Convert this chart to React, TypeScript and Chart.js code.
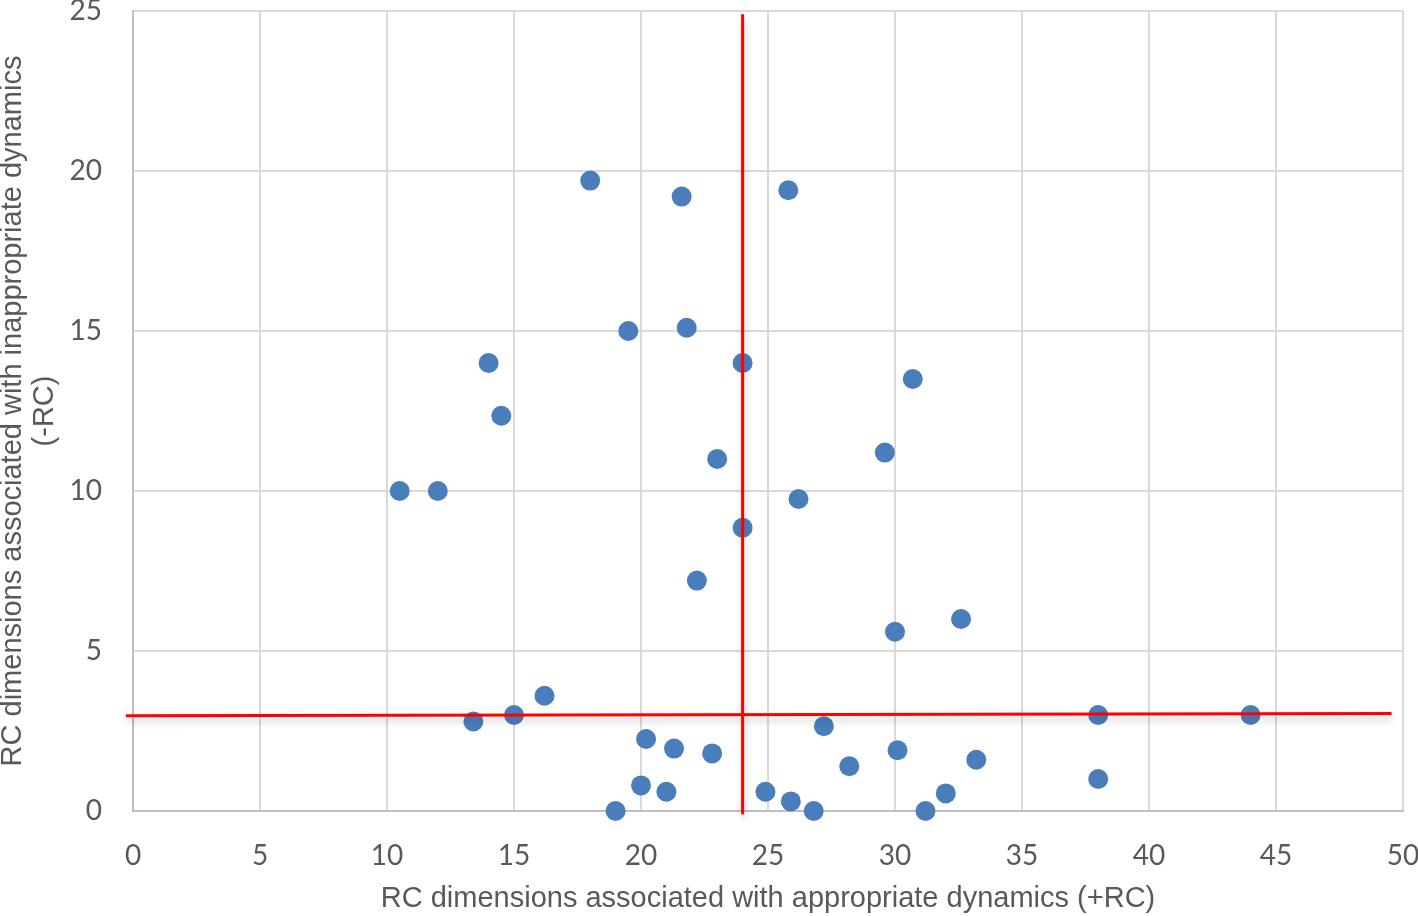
import React, { useEffect, useRef } from "react";
import { Chart, registerables } from "chart.js";

Chart.register(...registerables);

// Scatter data: +RC (x) and -RC (y)
const xValues = [18, 21.6, 25.8, 19.5, 21.8, 24, 14, 30.7, 14.5, 29.6, 23, 10.5, 12, 26.2, 24, 22.2, 30, 32.6, 16.2, 15, 13.4, 27.2, 38, 44, 20.2, 21.3, 22.8, 30.1, 33.2, 28.2, 38, 20, 21, 24.9, 25.9, 32, 19, 26.8, 31.2];
const yValues = [19.7, 19.2, 19.4, 15, 15.1, 14, 14, 13.5, 12.35, 11.2, 11, 10, 10, 9.75, 8.85, 7.2, 5.6, 6, 3.6, 3, 2.8, 2.65, 3, 3, 2.25, 1.95, 1.8, 1.9, 1.6, 1.4, 1, 0.8, 0.6, 0.6, 0.3, 0.55, 0, 0, 0];

// Red reference lines
const vLineX = [24, 24];
const vLineY = [-0.1, 24.9];
const hLineX = [-0.28, 49.55];
const hLineY = [2.98, 3.05];

const xTitle = "RC dimensions associated with appropriate dynamics (+RC)";
const yTitle = ["RC dimensions associated with inappropriate dynamics", "(-RC)"];

const xTicks = [0, 5, 10, 15, 20, 25, 30, 35, 40, 45, 50];
const yTicks = [0, 5, 10, 15, 20, 25];

const TEXT = "#595959";
const GRID = "#d9d9d9";

export default function App() {
  const ref = useRef<HTMLCanvasElement | null>(null);

  useEffect(() => {
    if (!ref.current) return;
    const shadowPlugin = {
      id: "lineShadow",
      beforeDatasetDraw(chart: any, args: any) {
        const ds = chart.data.datasets[args.index];
        if (ds.type === "line") {
          const ctx = chart.ctx;
          ctx.save();
          ctx.shadowColor = "rgba(0,0,0,0.22)";
          ctx.shadowBlur = 7;
          ctx.shadowOffsetX = 1;
          ctx.shadowOffsetY = 5;
        }
      },
      afterDatasetDraw(chart: any, args: any) {
        const ds = chart.data.datasets[args.index];
        if (ds.type === "line") {
          chart.ctx.restore();
        }
      },
    };

    const chart = new Chart(ref.current, {
      type: "scatter",
      data: {
        datasets: [
          {
            type: "line",
            data: vLineX.map((x, i) => ({ x, y: vLineY[i] })),
            borderColor: "#ff0000",
            borderWidth: 3,
            pointRadius: 0,
            clip: false,
            order: 0,
          } as any,
          {
            type: "line",
            data: hLineX.map((x, i) => ({ x, y: hLineY[i] })),
            borderColor: "#ff0000",
            borderWidth: 3,
            pointRadius: 0,
            clip: false,
            order: 0,
          } as any,
          {
            type: "scatter",
            data: xValues.map((x, i) => ({ x, y: yValues[i] })),
            backgroundColor: "#4a7ebb",
            borderColor: "#4a7ebb",
            borderWidth: 0,
            pointRadius: 10,
            clip: false,
            order: 1,
          } as any,
        ],
      },
      options: {
        animation: false,
        responsive: false,
        layout: { padding: { top: 11, right: 15, left: 0, bottom: 0 } },
        plugins: { legend: { display: false }, tooltip: { enabled: false } },
        scales: {
          x: {
            type: "linear",
            min: 0,
            max: 50,
            afterFit: (s: any) => {
              s.height = 105;
              s.paddingLeft = 0;
              s.paddingRight = 0;
            },
            afterBuildTicks: (s: any) => {
              s.ticks = xTicks.map((v) => ({ value: v }));
            },
            grid: { color: GRID, lineWidth: 2, drawTicks: false },
            border: { color: "#bfbfbf", width: 2 },
            ticks: {
              color: TEXT,
              font: { family: "Lato", size: 28 },
              padding: 28,
              maxRotation: 0,
            },
            title: {
              display: true,
              text: xTitle,
              color: TEXT,
              font: { family: "Liberation Sans", size: 29, lineHeight: 1.2 },
              padding: { top: 0, bottom: 0 },
            },
          },
          y: {
            type: "linear",
            min: 0,
            max: 25,
            afterFit: (s: any) => {
              s.width = 133;
              s.paddingTop = 0;
              s.paddingBottom = 0;
            },
            afterBuildTicks: (s: any) => {
              s.ticks = yTicks.map((v) => ({ value: v }));
            },
            grid: { color: GRID, lineWidth: 2, drawTicks: false },
            border: { color: "#bfbfbf", width: 2 },
            ticks: {
              color: TEXT,
              font: { family: "Lato", size: 28 },
              padding: 31,
            },
            title: {
              display: true,
              text: yTitle,
              color: TEXT,
              font: { family: "Liberation Sans", size: 29, lineHeight: 1.1 },
              padding: { top: -3, bottom: 0 },
            },
          },
        },
      },
      plugins: [shadowPlugin],
    } as any);
    return () => chart.destroy();
  }, []);

  return (
    <div style={{ position: "absolute", left: 0, top: 0, width: 1418, height: 916, background: "#fff" }}>
      <canvas ref={ref} width={1418} height={916} style={{ display: "block" }} />
    </div>
  );
}
